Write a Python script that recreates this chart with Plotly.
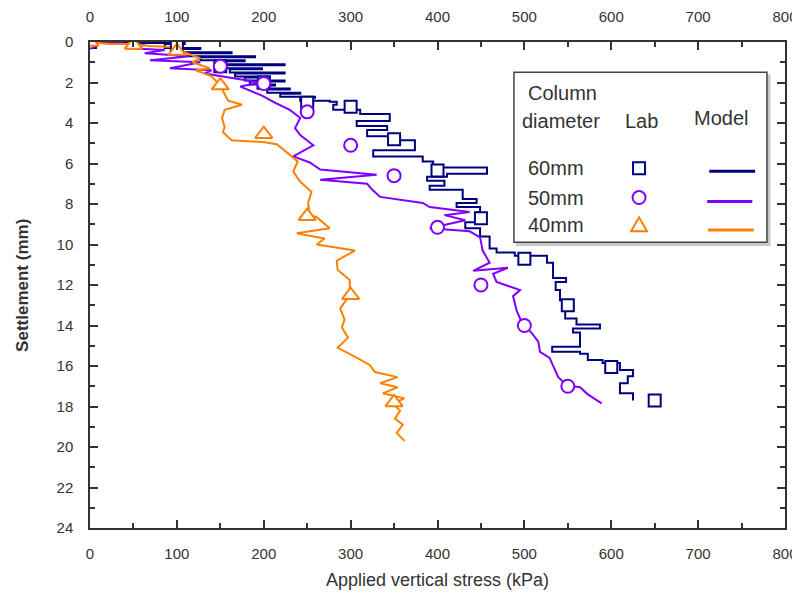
import plotly.graph_objects as go

# ---------------- data ----------------
# Model curves (applied stress kPa, settlement mm)
model60_stress = [0, 58, 109, 86, 127, 98, 163, 115, 190, 127, 178, 144, 224, 155, 198, 161, 224, 167, 207, 178,
                  224, 184, 213, 193, 230, 204, 242, 219, 259, 242, 276,
                  284, 280, 311, 345, 307, 342, 319, 357, 374, 326, 383, 395, 457, 411, 388, 408, 391, 429, 445, 422,
                  449, 446, 432, 449, 460, 468, 489, 526, 533, 548, 536, 541, 547, 560, 587, 556, 564, 532, 564, 573,
                  590, 610, 625, 619, 610, 625]
model60_settle = [0, 0.05, 0.1, 0.3, 0.35, 0.5, 0.55, 0.7, 0.75, 0.9, 0.95, 1.1, 1.15, 1.3, 1.35, 1.5, 1.55, 1.7, 1.75, 1.9,
                  1.95, 2.1, 2.15, 2.3, 2.35, 2.5, 2.55, 2.7, 2.75, 2.9, 2.95,
                  3.1, 3.35, 3.55, 3.9, 4.15, 4.35, 4.65, 4.85, 5.35, 5.65, 5.9, 6.2, 6.5, 6.65, 6.85, 7.1, 7.3, 7.75, 7.95, 8.15,
                  8.4, 8.9, 9.2, 9.6, 10.2, 10.4, 10.55, 10.9, 11.65, 11.85, 12.25, 12.75, 13.65, 13.95, 14.15, 14.35, 15.05, 15.3, 15.4, 15.7,
                  15.85, 16.2, 16.5, 16.85, 17.35, 17.7]

model50_stress = [0, 29, 63, 40, 86, 63, 115, 69, 127, 92, 140, 132, 167, 196, 173, 198, 213, 230, 242, 236,
                  242, 257, 234, 253, 265, 330, 265, 319, 325, 334, 383, 391, 437, 408, 432, 391, 437, 449, 452, 460,
                  441, 481, 464, 468, 495, 487, 491, 497, 509, 516, 518, 529, 539, 549, 564, 573, 589]
model50_settle = [0, 0.05, 0.15, 0.3, 0.4, 0.55, 0.7, 0.9, 1.0, 1.3, 1.4, 1.55, 1.8, 2.0, 2.2, 2.65, 3.0, 3.35, 3.75, 4.25,
                  4.6, 5.1, 5.65, 5.95, 6.3, 6.55, 6.8, 7.0, 7.3, 7.65, 7.95, 8.15, 8.4, 8.55, 8.8, 9.2, 9.35, 9.65, 10.3, 10.9,
                  11.3, 11.15, 11.45, 11.85, 12.25, 12.55, 13.25, 13.85, 14.4, 14.8, 15.3, 15.6, 16.55, 16.95, 17.05, 17.4, 17.85]

model40_stress = [0, 23, 46, 69, 92, 109, 127, 118, 138, 122, 140, 150, 159, 175, 155, 152, 155, 153, 163, 201,
                  215, 228, 239, 234, 242, 255, 251, 253, 261, 276, 238, 270, 261, 305, 284, 285, 299, 299, 288, 293,
                  290, 297, 285, 301, 322, 328, 354, 334, 354, 337, 362, 348, 357, 351, 360, 353, 362]
model40_settle = [0, 0.1, 0.1, 0.2, 0.25, 0.5, 0.8, 1.0, 1.3, 1.4, 1.7, 2.17, 2.9, 3.1, 3.35, 3.75, 4.2, 4.45, 4.85, 4.95,
                  5.05, 5.5, 5.9, 6.4, 6.9, 7.4, 7.95, 8.55, 8.65, 9.2, 9.45, 9.7, 10.0, 10.3, 10.8, 11.25, 11.75, 12.5, 13.15, 13.7,
                  14.1, 14.6, 15.1, 15.45, 15.95, 16.3, 16.55, 16.85, 17.05, 17.35, 17.6, 17.85, 18.2, 18.6, 18.9, 19.3, 19.7]

# Lab data
lab60_stress = [0, 100, 150, 200, 250, 300, 350, 400, 450, 500, 550, 600, 650]
lab60_settle = [0, 0.15, 1.2, 2.0, 3.0, 3.2, 4.8, 6.35, 8.7, 10.7, 13.0, 16.05, 17.7]

lab50_stress = [0, 150, 200, 250, 300, 350, 400, 450, 500, 550]
lab50_settle = [0, 1.2, 2.05, 3.45, 5.1, 6.6, 9.15, 12.0, 14.0, 17.0]

lab40_stress = [0, 50, 100, 150, 200, 250, 300, 350]
lab40_settle = [0, 0.15, 0.45, 2.15, 4.55, 8.6, 12.5, 17.8]

legend_labels = ["60mm", "50mm", "40mm"]

C60 = "#000080"
C50 = "#8000FF"
C40 = "#FF8000"
TXT = "#333333"
FONT = "Liberation Sans, Arial, sans-serif"

fig = go.Figure()

for xs, ys, c, shp in [(model60_stress, model60_settle, C60, "hv"),
                       (model50_stress, model50_settle, C50, "linear"),
                       (model40_stress, model40_settle, C40, "linear")]:
    fig.add_trace(go.Scatter(x=xs, y=ys, mode="lines", line=dict(color=c, width=2, shape=shp),
                             showlegend=False, hoverinfo="skip"))

for xs, ys, c, sym, sz in [(lab60_stress, lab60_settle, C60, "square", 12),
                           (lab50_stress, lab50_settle, C50, "circle", 13),
                           (lab40_stress, lab40_settle, C40, "triangle-up", 15)]:
    fig.add_trace(go.Scatter(x=xs, y=ys, mode="markers",
                             marker=dict(symbol=sym, size=sz, color="white",
                                         line=dict(color=c, width=2)),
                             showlegend=False, hoverinfo="skip"))

# dummy trace for top axis
fig.add_trace(go.Scatter(x=[None], y=[None], xaxis="x2", showlegend=False, hoverinfo="skip"))

axis_common = dict(showline=True, linecolor=TXT, linewidth=1.5, ticks="inside", automargin=False,
                   ticklen=8, tickwidth=1.5, tickcolor=TXT, showgrid=False, zeroline=False,
                   tickfont=dict(family=FONT, size=15, color=TXT))

# the page body has an 8px margin, so the figure is shifted by 8px
fig.update_layout(
    width=792, height=586,
    margin=dict(l=82, r=15, t=34, b=66),
    paper_bgcolor="white", plot_bgcolor="white",
    xaxis=dict(range=[0, 800], dtick=100, mirror=False, ticklabelstandoff=11,
               minor=dict(dtick=50, ticks="inside", ticklen=5, tickwidth=1.5, tickcolor=TXT),
               **axis_common),
    xaxis2=dict(range=[0, 800], dtick=100, overlaying="x", side="top", ticklabelstandoff=12,
                minor=dict(dtick=50, ticks="inside", ticklen=5, tickwidth=1.5, tickcolor=TXT),
                **axis_common),
    yaxis=dict(range=[24, 0], dtick=2, mirror="ticks", ticklabelstandoff=12,
               minor=dict(dtick=1, ticks="inside", ticklen=5, tickwidth=1.5, tickcolor=TXT),
               **axis_common),
)

annotations = [
    dict(text="Applied vertical stress (kPa)", x=0.5, y=-0.108, xref="paper", yref="paper",
         showarrow=False, xanchor="center", yanchor="middle",
         font=dict(family=FONT, size=18, color=TXT)),
    dict(text="<b>Settlement (mm)</b>", x=-0.098, y=0.5, xref="paper", yref="paper",
         showarrow=False, textangle=-90, xanchor="center", yanchor="middle",
         font=dict(family=FONT, size=17, color=TXT)),
    dict(text="Column", x=0.628, y=0.895, xref="paper", yref="paper", showarrow=False,
         xanchor="left", yanchor="middle", font=dict(family=FONT, size=20, color=TXT)),
    dict(text="diameter", x=0.618, y=0.837, xref="paper", yref="paper", showarrow=False,
         xanchor="left", yanchor="middle", font=dict(family=FONT, size=20, color=TXT)),
    dict(text="Lab", x=0.793, y=0.837, xref="paper", yref="paper", showarrow=False,
         xanchor="center", yanchor="middle", font=dict(family=FONT, size=20, color=TXT)),
    dict(text="Model", x=0.908, y=0.843, xref="paper", yref="paper", showarrow=False,
         xanchor="center", yanchor="middle", font=dict(family=FONT, size=20, color=TXT)),
]
row_y = [0.740, 0.680, 0.623]
for lab, yy in zip(legend_labels, row_y):
    annotations.append(dict(text=lab, x=0.628, y=yy, xref="paper", yref="paper", showarrow=False,
                            xanchor="left", yanchor="middle",
                            font=dict(family=FONT, size=20, color=TXT)))
fig.update_layout(annotations=annotations)

shapes = [
    # shadow
    dict(type="rect", xref="paper", yref="paper", x0=0.614, x1=0.978, y0=0.582, y1=0.932,
         line=dict(color="#c8c8c8", width=1.5), fillcolor="#c8c8c8", layer="above"),
    dict(type="rect", xref="paper", yref="paper", x0=0.610, x1=0.974, y0=0.588, y1=0.938,
         line=dict(color="#444444", width=1.5), fillcolor="white", layer="above"),
]
line_spans = [(0.891, 0.957, 0.734, C60), (0.888, 0.953, 0.672, C50), (0.889, 0.955, 0.613, C40)]
for x0, x1, yy, c in line_spans:
    shapes.append(dict(type="line", xref="paper", yref="paper", x0=x0, x1=x1, y0=yy, y1=yy,
                       line=dict(color=c, width=3), layer="above"))
mx = 0.790
shapes.append(dict(type="rect", xref="paper", yref="paper", xsizemode="pixel", ysizemode="pixel",
                   xanchor=mx, yanchor=row_y[0], x0=-6, x1=6, y0=-6, y1=6,
                   line=dict(color=C60, width=2), fillcolor="white", layer="above"))
shapes.append(dict(type="circle", xref="paper", yref="paper", xsizemode="pixel", ysizemode="pixel",
                   xanchor=mx, yanchor=row_y[1], x0=-6.5, x1=6.5, y0=-6.5, y1=6.5,
                   line=dict(color=C50, width=2), fillcolor="white", layer="above"))
shapes.append(dict(type="path", xref="paper", yref="paper", xsizemode="pixel", ysizemode="pixel",
                   xanchor=mx, yanchor=row_y[2], path="M -8 -6 L 8 -6 L 0 8 Z",
                   line=dict(color=C40, width=2), fillcolor="white", layer="above"))
fig.update_layout(shapes=shapes)

fig.write_html("out.html")
